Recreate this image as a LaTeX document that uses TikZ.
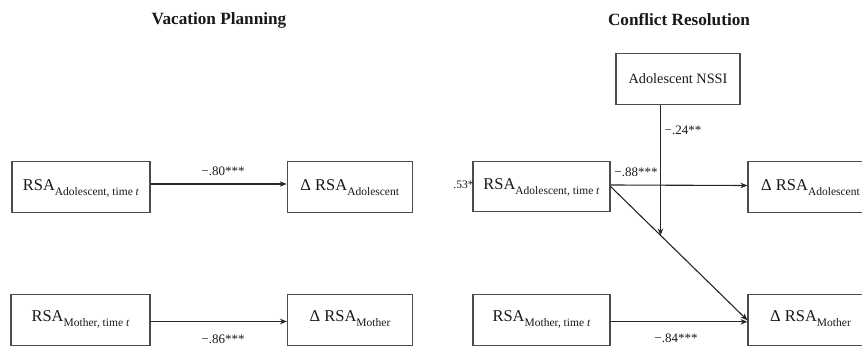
\documentclass[tikz,border=0pt]{standalone}
\usepackage{fontspec}
\setmainfont{Liberation Serif}
\usetikzlibrary{arrows.meta,calc}
\newcommand{\mysub}[1]{\raisebox{-5pt}{\fontsize{11.5}{13}\selectfont #1}}
\begin{document}
\begin{tikzpicture}[x=1pt,y=-1pt,
  box/.style={draw=black!70,line width=1.1pt,fill=white,minimum height=51pt,
    text=black!90,font=\fontsize{16.5}{19}\selectfont,inner sep=2pt},
  toprow/.style={text height=12pt,text depth=5pt},
  botrow/.style={text height=12pt,text depth=10pt},
  arr/.style={draw=black!85,line width=1.1pt,-{Stealth[length=7pt,width=5.5pt]}},
  lab/.style={text=black!90,font=\fontsize{13}{15}\selectfont,inner sep=0pt},
  ttl/.style={text=black!90,font=\fontsize{17.2}{20}\selectfont\bfseries,inner sep=0pt}]
\useasboundingbox (0,0) rectangle (862,347);
\clip (0,0) rectangle (862,347);
% titles
\node[ttl] (t1) at (219,20) {Vacation Planning};
\node[ttl] (t2) at (679,20) {Conflict Resolution};
% left panel
\node[box,toprow,minimum width=138pt] (A1) at (81,187) {RSA\mysub{Adolescent, time \textit{t}}};
\node[box,toprow,minimum width=125pt] (B1) at (349.7,187) {Δ RSA\mysub{Adolescent}};
\node[box,botrow,minimum width=139pt] (A2) at (80.5,320.3) {RSA\mysub{Mother, time \textit{t}}};
\node[box,botrow,minimum width=125pt] (B2) at (350,320.3) {Δ RSA\mysub{Mother}};
% right panel
\node[box,minimum width=124pt,font=\fontsize{14.3}{17}\selectfont] (N) at (678,79) {Adolescent NSSI};
\node[box,toprow,minimum width=137pt,minimum height=50pt] (C1) at (541.5,186.5) {RSA\mysub{Adolescent, time \textit{t}}};
\node[box,toprow,minimum width=125pt] (D1) at (810.5,187) {Δ RSA\mysub{Adolescent}};
\node[box,botrow,minimum width=137pt] (C2) at (541.5,320.3) {RSA\mysub{Mother, time \textit{t}}};
\node[box,botrow,minimum width=125pt] (D2) at (810.5,320.3) {Δ RSA\mysub{Mother}};
% connectors
\draw[arr] ([yshift=3pt]A1.east) -- ([yshift=3pt]B1.west);
\draw[arr] ([yshift=-1.2pt]A2.east) -- ([yshift=-1.2pt]B2.west);
\draw[arr] ([yshift=1.5pt]C1.east) -- ([yshift=1.5pt]D1.west);
\draw[arr] ([yshift=-1.5pt]C2.east) -- ([yshift=-1.5pt]D2.west);
\draw[arr] (C1.east) -- (D2.west) coordinate[pos=0.366] (m);
\draw[arr] ([xshift=-17.5pt]N.south) -- ([xshift=-17.5pt]N.south |- m);
% labels
\node[lab] (l1) at (223,171) {−.80***};
\node[lab] (l2) at (223,339) {−.86***};
\node[lab] (l3) at (636,172) {−.88***};
\node[lab] (l4) at (683,130.5) {−.24**};
\node[lab] (l5) at (676,338.5) {−.84***};
\node[lab,font=\fontsize{11.5}{13}\selectfont] (l6) at (463.5,185) {.53*};
\end{tikzpicture}
\end{document}
